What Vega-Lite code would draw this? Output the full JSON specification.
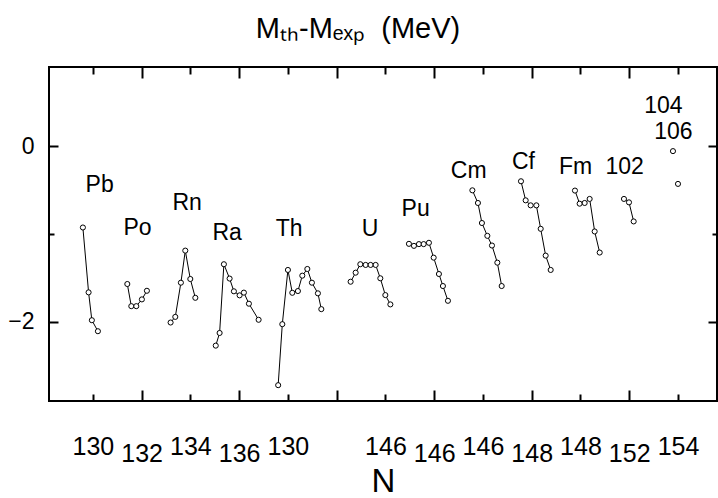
{
  "$schema": "https://vega.github.io/schema/vega-lite/v6.json",
  "width": 668,
  "height": 334,
  "autosize": {"type": "none"},
  "padding": {"left": 49, "top": 67, "right": 1, "bottom": 97},
  "background": "white",
  "title": {
    "text": "Mₜₕ-Mₑₓₚ\u00a0\u00a0(MeV)",
    "font": "Liberation Sans",
    "fontSize": 29,
    "fontWeight": "normal",
    "color": "black",
    "anchor": "middle",
    "baseline": "alphabetic",
    "offset": -1,
    "dx": -25
  },
  "config": {
    "view": {"stroke": "black", "strokeWidth": 2},
    "axis": {"grid": false, "domain": false, "tickColor": "black", "tickWidth": 2, "labelColor": "black", "titleColor": "black"}
  },
  "datasets": {
    "pts": [
      {"el": "Pb", "u": 0.795, "v": -0.926}, {"el": "Pb", "u": 0.912, "v": -1.664}, {"el": "Pb", "u": 0.979, "v": -1.981}, {"el": "Pb", "u": 1.103, "v": -2.106},
      {"el": "Po", "u": 1.706, "v": -1.569}, {"el": "Po", "u": 1.788, "v": -1.821}, {"el": "Po", "u": 1.89, "v": -1.821}, {"el": "Po", "u": 2.005, "v": -1.744}, {"el": "Po", "u": 2.108, "v": -1.646},
      {"el": "Rn", "u": 2.594, "v": -2.007}, {"el": "Rn", "u": 2.69, "v": -1.943}, {"el": "Rn", "u": 2.805, "v": -1.554}, {"el": "Rn", "u": 2.895, "v": -1.189}, {"el": "Rn", "u": 2.998, "v": -1.512}, {"el": "Rn", "u": 3.101, "v": -1.726},
      {"el": "Ra", "u": 3.52, "v": -2.27}, {"el": "Ra", "u": 3.599, "v": -2.126}, {"el": "Ra", "u": 3.687, "v": -1.344}, {"el": "Ra", "u": 3.804, "v": -1.507}, {"el": "Ra", "u": 3.892, "v": -1.652}, {"el": "Ra", "u": 4.009, "v": -1.698}, {"el": "Ra", "u": 4.097, "v": -1.667}, {"el": "Ra", "u": 4.2, "v": -1.793}, {"el": "Ra", "u": 4.399, "v": -1.976},
      {"el": "Th", "u": 4.8, "v": -2.72}, {"el": "Th", "u": 4.885, "v": -2.026}, {"el": "Th", "u": 5.0, "v": -1.409}, {"el": "Th", "u": 5.09, "v": -1.669}, {"el": "Th", "u": 5.205, "v": -1.649}, {"el": "Th", "u": 5.295, "v": -1.474}, {"el": "Th", "u": 5.398, "v": -1.398}, {"el": "Th", "u": 5.492, "v": -1.554}, {"el": "Th", "u": 5.615, "v": -1.675}, {"el": "Th", "u": 5.685, "v": -1.855},
      {"el": "U", "u": 6.286, "v": -1.543}, {"el": "U", "u": 6.389, "v": -1.44}, {"el": "U", "u": 6.485, "v": -1.344}, {"el": "U", "u": 6.594, "v": -1.352}, {"el": "U", "u": 6.696, "v": -1.352}, {"el": "U", "u": 6.799, "v": -1.352}, {"el": "U", "u": 6.895, "v": -1.504}, {"el": "U", "u": 6.998, "v": -1.695}, {"el": "U", "u": 7.101, "v": -1.801},
      {"el": "Pu", "u": 7.482, "v": -1.112}, {"el": "Pu", "u": 7.585, "v": -1.135}, {"el": "Pu", "u": 7.687, "v": -1.115}, {"el": "Pu", "u": 7.784, "v": -1.115}, {"el": "Pu", "u": 7.892, "v": -1.1}, {"el": "Pu", "u": 7.989, "v": -1.269}, {"el": "Pu", "u": 8.097, "v": -1.455}, {"el": "Pu", "u": 8.179, "v": -1.592}, {"el": "Pu", "u": 8.282, "v": -1.76},
      {"el": "Cm", "u": 8.783, "v": -0.503}, {"el": "Cm", "u": 8.897, "v": -0.647}, {"el": "Cm", "u": 8.979, "v": -0.875}, {"el": "Cm", "u": 9.09, "v": -1.021}, {"el": "Cm", "u": 9.185, "v": -1.131}, {"el": "Cm", "u": 9.295, "v": -1.326}, {"el": "Cm", "u": 9.384, "v": -1.592},
      {"el": "Cf", "u": 9.78, "v": -0.4}, {"el": "Cf", "u": 9.876, "v": -0.617}, {"el": "Cf", "u": 9.978, "v": -0.674}, {"el": "Cf", "u": 10.095, "v": -0.674}, {"el": "Cf", "u": 10.184, "v": -0.941}, {"el": "Cf", "u": 10.286, "v": -1.246}, {"el": "Cf", "u": 10.389, "v": -1.409},
      {"el": "Fm", "u": 10.887, "v": -0.506}, {"el": "Fm", "u": 10.983, "v": -0.655}, {"el": "Fm", "u": 11.086, "v": -0.647}, {"el": "Fm", "u": 11.188, "v": -0.601}, {"el": "Fm", "u": 11.291, "v": -0.971}, {"el": "Fm", "u": 11.394, "v": -1.211},
      {"el": "102", "u": 11.892, "v": -0.601}, {"el": "102", "u": 11.995, "v": -0.64}, {"el": "102", "u": 12.091, "v": -0.857},
      {"el": "104", "u": 12.897, "v": -0.057},
      {"el": "106", "u": 13.0, "v": -0.43}
    ],
    "labels": [
      {"label": "Pb", "kind": "symbol", "u": 1.138, "v": -0.518},
      {"label": "Po", "kind": "symbol", "u": 1.917, "v": -1.009},
      {"label": "Rn", "kind": "symbol", "u": 2.932, "v": -0.723},
      {"label": "Ra", "kind": "symbol", "u": 3.753, "v": -1.066},
      {"label": "Th", "kind": "symbol", "u": 5.025, "v": -1.02},
      {"label": "U", "kind": "symbol", "u": 6.686, "v": -1.02},
      {"label": "Pu", "kind": "symbol", "u": 7.62, "v": -0.8},
      {"label": "Cm", "kind": "symbol", "u": 8.707, "v": -0.361},
      {"label": "Cf", "kind": "symbol", "u": 9.829, "v": -0.258},
      {"label": "Fm", "kind": "symbol", "u": 10.901, "v": -0.323},
      {"label": "102", "kind": "Z", "u": 11.907, "v": -0.323},
      {"label": "104", "kind": "Z", "u": 12.7, "v": 0.382},
      {"label": "106", "kind": "Z", "u": 12.906, "v": 0.077}
    ]
  },
  "resolve": {"axis": {"x": "independent", "y": "independent"}},
  "layer": [
    {
      "mark": {"type": "rule", "strokeDash": [1.5, 3], "strokeWidth": 1, "color": "black"},
      "encoding": {"y": {"datum": 0, "type": "quantitative", "scale": {"domain": [-2.9, 0.9]}, "axis": null}}
    },
    {
      "data": {"name": "pts"},
      "mark": {"type": "line", "color": "black", "strokeWidth": 1},
      "encoding": {
        "x": {"field": "u", "type": "quantitative", "scale": {"domain": [0.1, 13.8], "nice": false, "zero": false},
          "axis": {"orient": "top", "values": [1, 2, 3, 4, 5, 6, 7, 8, 9, 10, 11, 12, 13], "labels": false, "title": null,
            "tickSize": {"condition": {"test": "datum.value % 2 == 0", "value": -11}, "value": -7}}},
        "y": {"field": "v", "type": "quantitative", "scale": {"domain": [-2.9, 0.9], "nice": false, "zero": false},
          "axis": {"orient": "right", "values": [-2, -1, 0], "labels": false, "title": null,
            "tickSize": {"condition": {"test": "datum.value == -1", "value": -5}, "value": -9}}},
        "detail": {"field": "el"}
      }
    },
    {
      "data": {"name": "pts"},
      "mark": {"type": "point", "shape": "circle", "size": 26, "filled": false, "fill": "white", "fillOpacity": 1, "stroke": "black", "strokeWidth": 1, "opacity": 1},
      "encoding": {
        "x": {"field": "u", "type": "quantitative",
          "axis": {"orient": "bottom", "values": [1, 2, 3, 4, 5, 6, 7, 8, 9, 10, 11, 12, 13],
            "tickSize": {"condition": {"test": "datum.value % 2 == 0", "value": -11}, "value": -7},
            "labelExpr": "[[''],['130'],['','132'],['134'],['','136'],['130'],[''],['146'],['','146'],['146'],['','148'],['148'],['','152'],['154']][datum.value]",
            "labelFont": "Liberation Sans", "labelFontSize": 25, "labelAngle": 0,
            "labelBaseline": "alphabetic", "labelLineHeight": 11, "labelPadding": 60,
            "title": "N", "titleFont": "Liberation Sans", "titleFontSize": 33, "titleFontWeight": "normal",
            "titleBaseline": "alphabetic", "titleY": 90}},
        "y": {"field": "v", "type": "quantitative",
          "axis": {"orient": "left", "values": [-2, -1, 0],
            "tickSize": {"condition": {"test": "datum.value == -1", "value": -5}, "value": -9},
            "labelExpr": "datum.value == 0 ? '0' : (datum.value == -2 ? '−2' : '')",
            "labelFont": "Liberation Sans", "labelFontSize": 23, "labelPadding": 24, "title": null}}
      }
    },
    {
      "data": {"name": "labels"},
      "transform": [{"filter": "datum.kind == 'symbol'"}],
      "mark": {"type": "text", "font": "Liberation Sans", "fontSize": 23, "color": "black", "align": "center", "baseline": "alphabetic"},
      "encoding": {
        "x": {"field": "u", "type": "quantitative", "axis": null},
        "y": {"field": "v", "type": "quantitative", "axis": null},
        "text": {"field": "label"}
      }
    },
    {
      "data": {"name": "labels"},
      "transform": [{"filter": "datum.kind == 'Z'"}],
      "mark": {"type": "text", "font": "Liberation Sans", "fontSize": 23, "color": "black", "align": "center", "baseline": "alphabetic"},
      "encoding": {
        "x": {"field": "u", "type": "quantitative", "axis": null},
        "y": {"field": "v", "type": "quantitative", "axis": null},
        "text": {"field": "label"}
      }
    }
  ]
}
